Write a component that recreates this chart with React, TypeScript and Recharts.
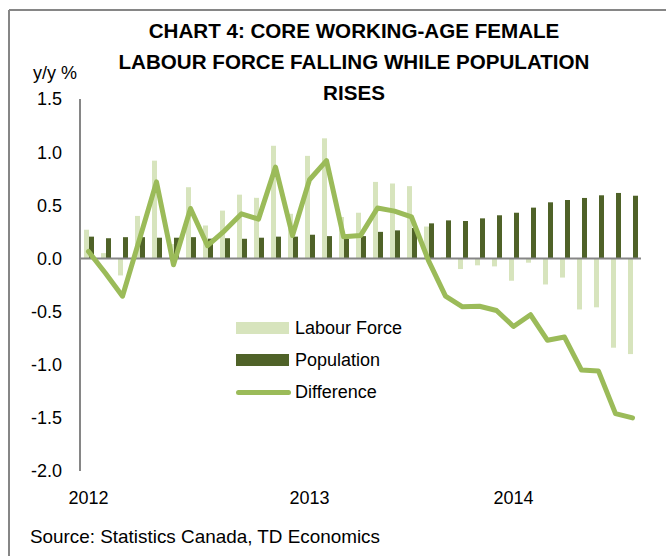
import { ComposedChart, Bar, Line, XAxis, YAxis, ReferenceLine } from 'recharts'

const months = [
  'Jan-12', 'Feb-12', 'Mar-12', 'Apr-12', 'May-12', 'Jun-12', 'Jul-12', 'Aug-12', 'Sep-12', 'Oct-12', 'Nov-12', 'Dec-12',
  'Jan-13', 'Feb-13', 'Mar-13', 'Apr-13', 'May-13', 'Jun-13', 'Jul-13', 'Aug-13', 'Sep-13', 'Oct-13', 'Nov-13', 'Dec-13',
  'Jan-14', 'Feb-14', 'Mar-14', 'Apr-14', 'May-14', 'Jun-14', 'Jul-14', 'Aug-14', 'Sep-14',
]

const labourForce = [
  0.27, 0.05, -0.16, 0.4, 0.92, 0.135, 0.67, 0.31, 0.45, 0.6, 0.57, 1.06,
  0.42, 0.965, 1.13, 0.39, 0.43, 0.72, 0.705, 0.68, 0.3, 0.01, -0.1, -0.065,
  -0.075, -0.21, -0.04, -0.245, -0.18, -0.48, -0.46, -0.84, -0.9,
]

const population = [
  0.205, 0.19, 0.2, 0.2, 0.195, 0.195, 0.2, 0.186, 0.19, 0.185, 0.195, 0.205,
  0.205, 0.223, 0.21, 0.185, 0.21, 0.25, 0.264, 0.286, 0.33, 0.358, 0.352, 0.377,
  0.406, 0.43, 0.478, 0.528, 0.55, 0.569, 0.594, 0.616, 0.59,
]

const difference = [
  0.065, -0.14, -0.355, 0.18, 0.72, -0.06, 0.47, 0.12, 0.26, 0.42, 0.37, 0.86,
  0.215, 0.74, 0.92, 0.205, 0.215, 0.475, 0.445, 0.39, -0.02, -0.355, -0.455, -0.45,
  -0.49, -0.64, -0.53, -0.77, -0.74, -1.05, -1.06, -1.46, -1.5,
]

const yearLabels: Record<string, string> = { 'Jan-12': '2012', 'Feb-13': '2013', 'Feb-14': '2014' }
const yTicks = [-2, -1.5, -1, -0.5, 0, 0.5, 1, 1.5]

const titleLines = ['CHART 4: CORE WORKING-AGE FEMALE', 'LABOUR FORCE FALLING WHILE POPULATION', 'RISES']

const LIGHT = '#D7E4BD'
const DARK = '#4F6228'
const LINE = '#9BBB59'
const AXIS = '#868686'
const FONT = '"Liberation Sans", Arial, sans-serif'

const data = months.map((month, i) => ({
  month,
  labour: labourForce[i],
  population: population[i],
  difference: difference[i],
}))

const legendItems = [
  { label: 'Labour Force', color: LIGHT, kind: 'bar' },
  { label: 'Population', color: DARK, kind: 'bar' },
  { label: 'Difference', color: LINE, kind: 'line' },
]

// drawn by hand so it sits inside the plot without eating chart space
function ChartLegend() {
  return (
    <div style={{ position: 'absolute', left: 236, top: 312, fontFamily: FONT, fontSize: 18, color: '#000' }}>
      {legendItems.map((item) => (
        <div key={item.label} style={{ display: 'flex', alignItems: 'center', height: 32 }}>
          {item.kind === 'bar' ? (
            <span style={{ width: 53, height: 12, background: item.color, marginRight: 6 }} />
          ) : (
            <span style={{ width: 55, height: 5, borderRadius: 3, background: item.color, marginRight: 4 }} />
          )}
          <span>{item.label}</span>
        </div>
      ))}
    </div>
  )
}

export default function App() {
  return (
    <div style={{ position: 'absolute', left: 0, top: 0, width: 666, height: 556, background: '#fff' }}>
      <ComposedChart
        width={666}
        height={556}
        data={data}
        margin={{ top: 99, right: 25, bottom: 55, left: 20 }}
        barGap={0}
      >
        <XAxis
          dataKey="month"
          interval={0}
          height={30}
          tickLine={false}
          axisLine={false}
          tickSize={0}
          tickMargin={20}
          tickFormatter={(m: string) => yearLabels[m] ?? ''}
          tick={{ fill: '#000', fontSize: 18, fontFamily: FONT }}
        />
        <YAxis
          width={60}
          domain={[-2, 1.5]}
          ticks={yTicks}
          interval={0}
          tickLine={false}
          tickSize={0}
          tickMargin={18}
          axisLine={{ stroke: AXIS, strokeWidth: 2 }}
          tickFormatter={(v: number) => v.toFixed(1)}
          tick={{ fill: '#000', fontSize: 18, fontFamily: FONT }}
        />
        <Bar dataKey="labour" name="Labour Force" fill={LIGHT} barSize={5} isAnimationActive={false} />
        <Bar dataKey="population" name="Population" fill={DARK} barSize={5} isAnimationActive={false} />
        <ReferenceLine y={0} stroke={AXIS} strokeWidth={2} />
        <Line
          dataKey="difference"
          name="Difference"
          type="linear"
          stroke={LINE}
          strokeWidth={5}
          strokeLinejoin="round"
          strokeLinecap="round"
          dot={false}
          activeDot={false}
          isAnimationActive={false}
        />
      </ComposedChart>
      <ChartLegend />
      <svg
        width={666}
        height={556}
        style={{ position: 'absolute', left: 0, top: 0, pointerEvents: 'none' }}
        fontFamily={FONT}
      >
        <line x1={9} y1={10} x2={666} y2={10} stroke={AXIS} strokeWidth={2} />
        <line x1={9} y1={10} x2={9} y2={556} stroke={AXIS} strokeWidth={2} />
        {titleLines.map((t, i) => (
          <text key={t} x={354} y={38 + i * 31} textAnchor="middle" fontSize={20.6} fontWeight="bold" fill="#000">
            {t}
          </text>
        ))}
        <text x={33} y={79} fontSize={18} fill="#000">y/y %</text>
        <text x={30} y={543} fontSize={18.5} fill="#000" textLength={350} lengthAdjust="spacingAndGlyphs">
          Source: Statistics Canada, TD Economics
        </text>
      </svg>
    </div>
  )
}
